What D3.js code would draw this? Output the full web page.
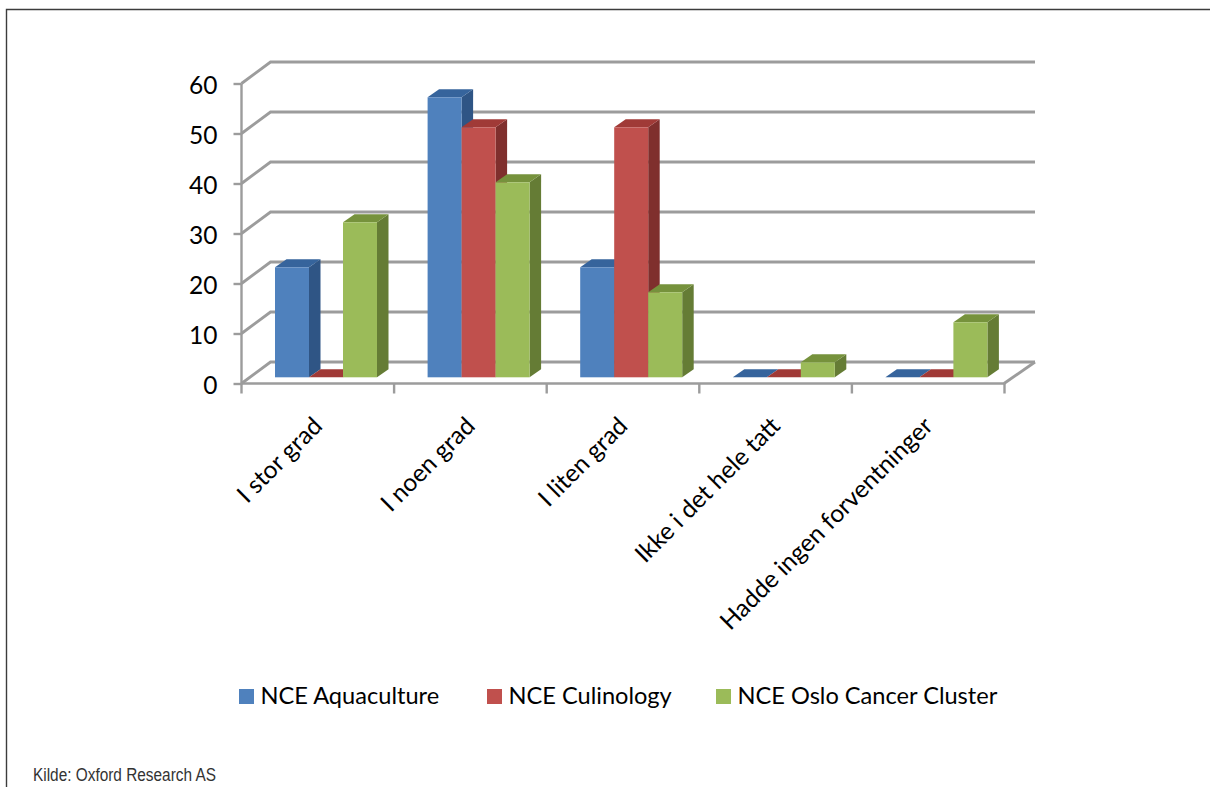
<!DOCTYPE html>
<html>
<head>
<meta charset="utf-8">
<script src="https://cdn.jsdelivr.net/npm/d3@7/dist/d3.min.js"></script>
<style>
html,body{margin:0;padding:0;background:#fff;}
svg{display:block;}
text{fill:#000;}
</style>
</head>
<body>
<script>
// Survey answers per cluster, in percent
const categories = ["I stor grad", "I noen grad", "I liten grad", "Ikke i det hele tatt", "Hadde ingen forventninger"];
const seriesNames = ["NCE Aquaculture", "NCE Culinology", "NCE Oslo Cancer Cluster"];
const aquaculture = [22, 56, 22, 0, 0];
const culinology = [0, 50, 50, 0, 0];
const osloCancer = [31, 39, 17, 3, 11];
const seriesValues = [aquaculture, culinology, osloCancer];
const yTicks = [0, 10, 20, 30, 40, 50, 60];
const sourceNote = "Kilde: Oxford Research AS";

const palette = [
  {front: "#4f81bd", top: "#36649c", side: "#2f5585"},
  {front: "#c0504d", top: "#a03a37", side: "#7f2f2d"},
  {front: "#9bbb59", top: "#76923c", side: "#657c35"}
];

const width = 1210, height = 787;
const svg = d3.select("body").append("svg").attr("width", width).attr("height", height);

const y = d3.scaleLinear().domain([0, 60]).range([383.5, 83.5]);
const x0 = d3.scaleBand().domain(categories).range([241.5, 1004.5]);
const x1 = d3.scaleBand().domain(seriesNames).range([33.5, 135.5]);

// Oblique projection: wall offset of the box and the depth of one bar
const wall = {dx: 29, dy: -21.5};
const bar = {lift: 6.2, dx: 11.5, dy: -8};
const gridColor = "#9c9c9c";

// Page frame on the top and left edges
svg.append("path").attr("d", `M6.5,787V9.5H${width}`).attr("fill", "none").attr("stroke", "#3c3c3c").attr("stroke-width", 1.4);

// Gridlines: one step up the left wall, then along the back wall
const grid = svg.append("g").attr("fill", "none").attr("stroke", gridColor).attr("stroke-width", 2.9);
grid.selectAll("path").data(yTicks).join("path")
  .attr("d", d => `M241.5,${y(d)}L${241.5 + wall.dx},${y(d) + wall.dy}H1035`);
grid.append("path").attr("d", `M1004,${y(0)}L1035,${y(0) + wall.dy}`);

// Front axis lines and tick marks
const axisG = svg.append("g").attr("fill", "none").attr("stroke", gridColor).attr("stroke-width", 2.4);
axisG.append("path").attr("d", `M241.5,${y(60)}V${y(0)}H1004`);
axisG.selectAll(".xt").data([...categories.map(c => x0(c)), x0.range()[1]]).join("path")
  .attr("class", "xt").attr("d", d => `M${d},${y(0)}v10`);

// Value axis labels and outer ticks
const yAxis = d3.axisLeft(y).tickValues(yTicks).tickSize(8).tickPadding(16);
const yG = svg.append("g").attr("transform", "translate(241.5,0)").call(yAxis);
yG.select(".domain").remove();
yG.selectAll("line").attr("stroke", gridColor).attr("stroke-width", 2.4);
yG.selectAll("text").attr("font-family", "Lato").attr("font-size", 24.5).attr("fill", "#000").attr("dy", "0.39em");

// Bars: front face, top parallelogram and right side face
const baseY = y(0) - bar.lift;
const groups = svg.append("g").selectAll("g").data(categories).join("g")
  .attr("transform", c => `translate(${x0(c)},0)`);

seriesNames.forEach((name, s) => {
  const bw = x1.bandwidth();
  const col = palette[s];
  const marks = groups.append("g").datum((c, i) => seriesValues[s][i]);
  const X = x1(name);
  marks.append("path").attr("fill", col.side)
    .attr("d", v => { const t = baseY - (y(0) - y(v));
      return `M${X + bw},${t}l${bar.dx},${bar.dy}V${baseY + bar.dy}l${-bar.dx},${-bar.dy}Z`; });
  marks.append("path").attr("fill", col.top)
    .attr("d", v => { const t = baseY - (y(0) - y(v));
      return `M${X},${t}l${bar.dx},${bar.dy}h${bw}l${-bar.dx},${-bar.dy}Z`; });
  marks.append("rect").attr("fill", col.front)
    .attr("x", X).attr("width", bw)
    .attr("y", v => baseY - (y(0) - y(v)))
    .attr("height", v => y(0) - y(v));
});

// Slanted category labels
const xAxis = d3.axisBottom(x0).tickSize(0);
const xG = svg.append("g").attr("transform", `translate(0,${y(0)})`).call(xAxis);
xG.select(".domain").remove();
xG.selectAll("text")
  .attr("font-family", "Lato").attr("font-size", 24.5).attr("fill", "#000")
  .attr("text-anchor", "end").attr("dy", null).attr("y", null)
  .attr("transform", "translate(6,44) rotate(-45)");

// Legend
const legendX = [239, 487, 716];
const legend = svg.append("g").selectAll("g").data(seriesNames).join("g")
  .attr("transform", (d, i) => `translate(${legendX[i]},689)`);
legend.append("rect").attr("width", 15).attr("height", 15).attr("fill", (d, i) => palette[i].front);
legend.append("text").attr("x", 21.5).attr("y", 14.5).text(d => d)
  .attr("font-family", "Lato").attr("font-size", 23.6);

// Source note, condensed to the width of the narrow face
svg.append("text").attr("x", 33).attr("y", 781).text(sourceNote)
  .attr("font-family", "'Liberation Sans'").attr("font-size", 17.5).style("fill", "#333")
  .attr("textLength", 183).attr("lengthAdjust", "spacingAndGlyphs");
</script>
</body>
</html>
